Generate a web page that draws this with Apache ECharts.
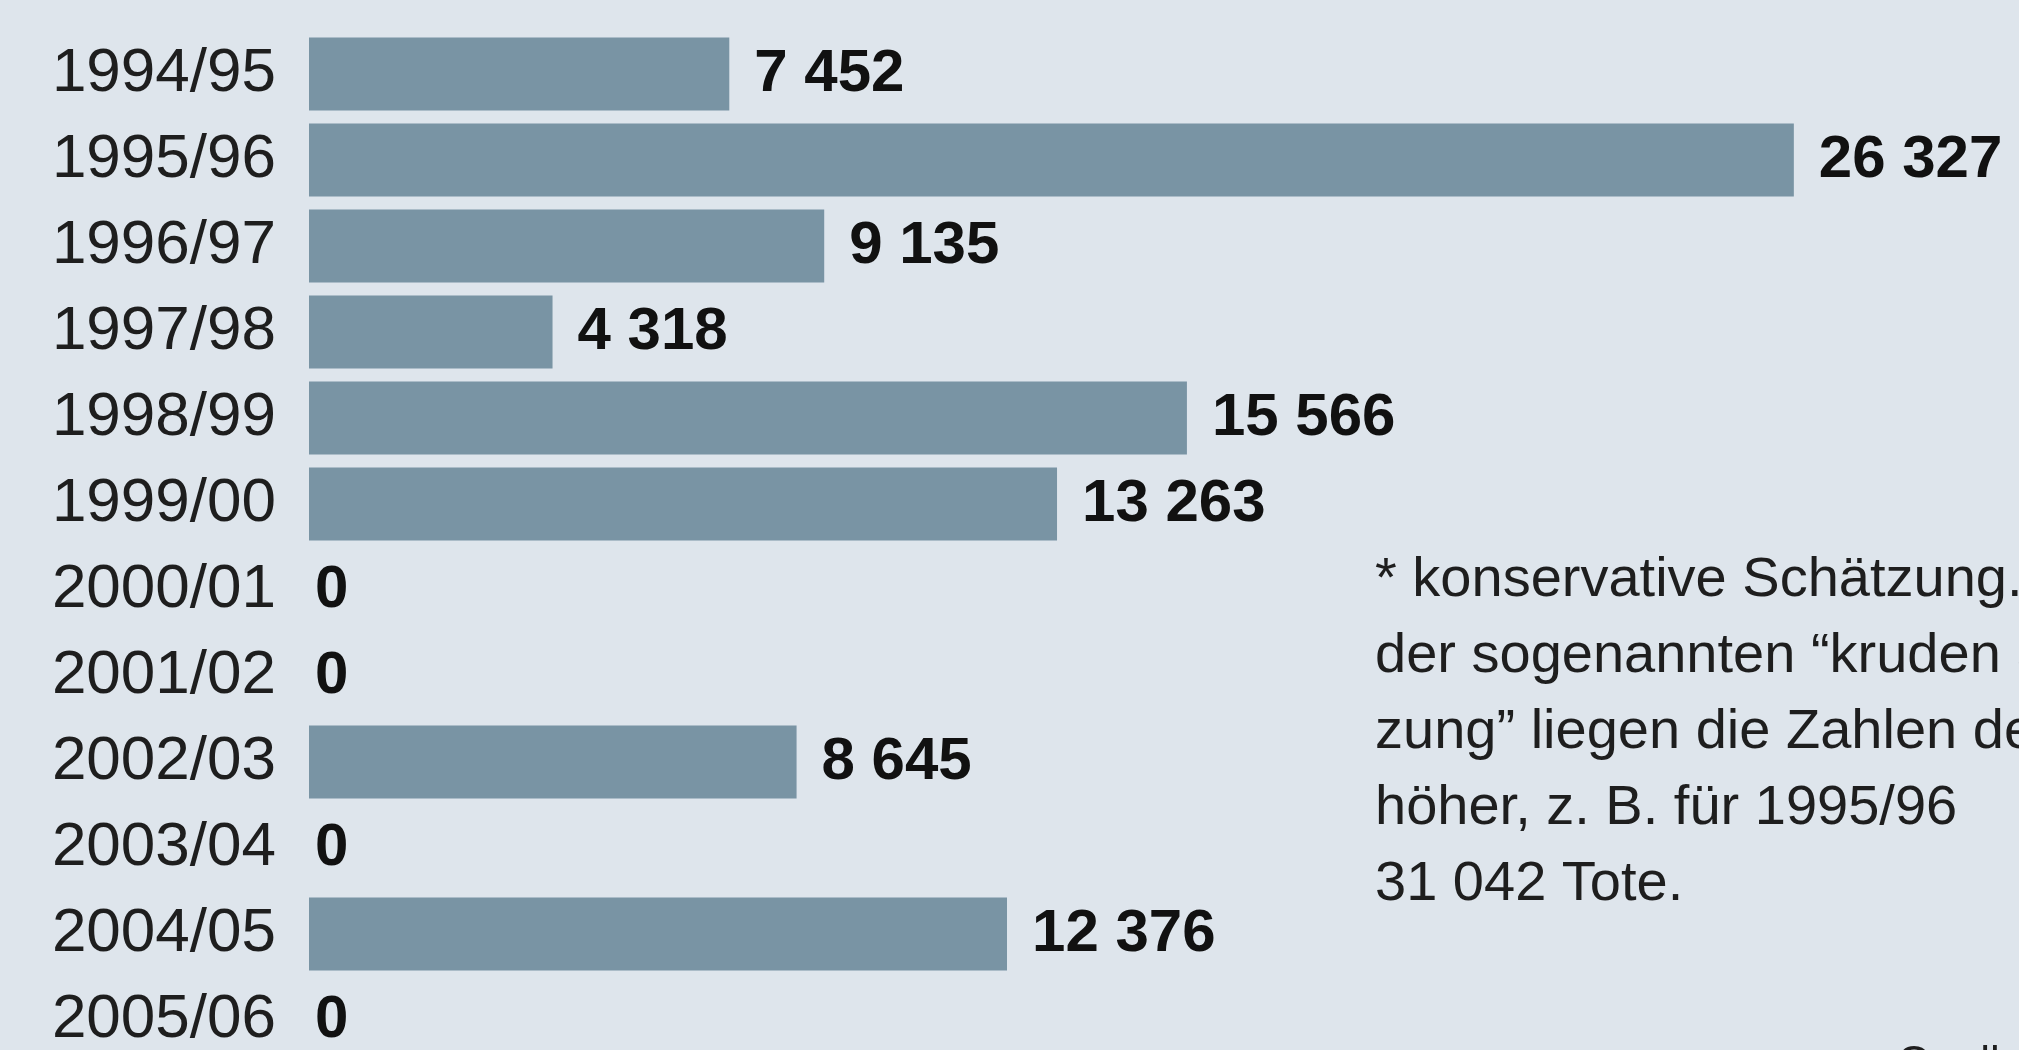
<!DOCTYPE html>
<html>
<head>
<meta charset="utf-8">
<title>Tote je Saison</title>
<script src="https://cdn.jsdelivr.net/npm/echarts@6/dist/echarts.min.js"></script>
<style>
  html, body { margin: 0; padding: 0; background: #dee5ec; overflow: hidden; }
  /* the last row sits partly below the visible edge, so the canvas is taller than the window */
  #chart { width: 2019px; height: 1080px; }
</style>
</head>
<body>
<div id="chart"></div>
<script>
// Seasons shown on the category axis
const seasons = ['1994/95', '1995/96', '1996/97', '1997/98', '1998/99', '1999/00',
                 '2000/01', '2001/02', '2002/03', '2003/04', '2004/05', '2005/06'];
// Deaths per season (conservative estimate)
const deaths = [7452, 26327, 9135, 4318, 15566, 13263, 0, 0, 8645, 0, 12376, 0];

const footnoteLines = [
  '* konservative Schätzung. Bei',
  'der sogenannten “kruden Schät-',
  'zung” liegen die Zahlen deutlich',
  'höher, z. B. für 1995/96',
  '31 042 Tote.'
];
const sourceText = 'Quelle:';

const FONT = '"Liberation Sans", Arial, sans-serif';

function groupThousands(v) {
  return String(v).replace(/\B(?=(\d{3})+(?!\d))/g, ' ');
}

const barData = deaths.map(v => ({
  value: v,
  label: { distance: v === 0 ? 6 : 25 }
}));

const chart = echarts.init(document.getElementById('chart'), null, { renderer: 'canvas' });

chart.setOption({
  backgroundColor: '#dee5ec',
  animation: false,
  grid: { left: 309, right: 18, top: 31, height: 1032, containLabel: false },
  xAxis: {
    type: 'value',
    min: 0,
    max: 30000,
    show: false
  },
  yAxis: {
    type: 'category',
    data: seasons,
    inverse: true,
    axisLine: { show: false },
    axisTick: { show: false },
    splitLine: { show: false },
    axisLabel: {
      margin: 33,
      fontSize: 62,
      fontFamily: FONT,
      color: '#1e1e1e'
    }
  },
  series: [{
    type: 'bar',
    data: barData,
    barWidth: 73,
    itemStyle: { color: '#7994a4' },
    label: {
      show: true,
      position: 'right',
      formatter: p => groupThousands(p.value),
      fontSize: 60,
      fontWeight: 'bold',
      fontFamily: FONT,
      color: '#111111'
    }
  }],
  graphic: [
    {
      type: 'text',
      left: 1375,
      top: 543,
      style: {
        text: footnoteLines.join('\n'),
        font: '56px ' + FONT,
        lineHeight: 76,
        fill: '#1e1e1e'
      }
    },
    {
      type: 'text',
      left: 1897,
      top: 1043,
      style: {
        text: sourceText,
        font: '44px ' + FONT,
        fill: '#1e1e1e'
      }
    }
  ]
});
</script>
</body>
</html>
